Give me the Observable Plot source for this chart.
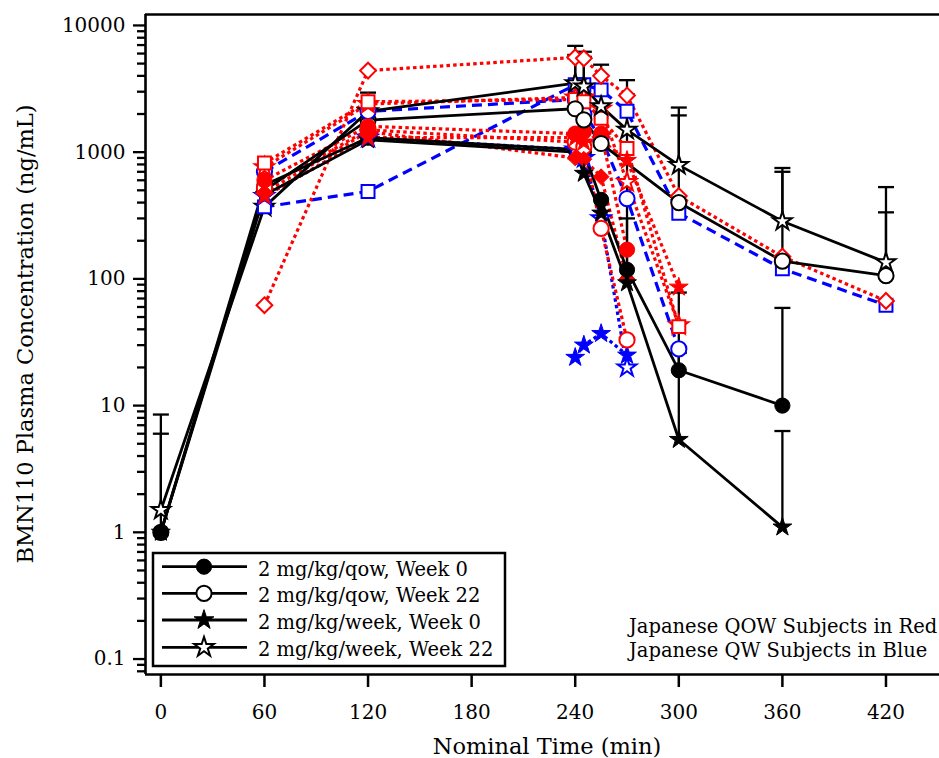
<!DOCTYPE html>
<html><head><meta charset="utf-8">
<script src="https://cdn.jsdelivr.net/npm/d3@7"></script>
<script src="https://cdn.jsdelivr.net/npm/@observablehq/plot@0.6"></script>
<style>body{margin:0;background:#fff;} svg{display:block;}</style>
</head><body><div id="chart"></div>
<script>
// ---------- data ----------
const times = [0, 60, 120, 240, 245, 255, 270, 300, 360, 420];
const xTicks = [0, 60, 120, 180, 240, 300, 360, 420];
const yTicks = [0.1, 1, 10, 100, 1000, 10000];

// Mean profiles (black)
const qowWeek0  = [1.0, 550, 1300, 1050, 1000, 420, 118, 19, 10, null];
const qowWeek22 = [1.0, 500, 1790, 2200, 1800, 1170, null, 400, 138, 106];
const qwWeek0   = [1.0, 460, 1250, 1000, 680, 330, 93, 5.4, 1.1, null];
const qwWeek22  = [1.5, 370, 2100, 3500, 3300, 2300, 1500, 790, 285, 135];
// Upper ends of error bars (mean + SD)
const qowWeek0Top  = [6.0, null, null, null, null, null, 300, 78, 59, null];
const qowWeek22Top = [null, null, null, 5850, 5650, null, null, 1950, 700, 335];
const qwWeek0Top   = [null, null, null, null, null, null, 2850, 26, 6.3, null];
const qwWeek22Top  = [8.5, null, 2950, 6900, 6200, 4900, 3700, 2250, 750, 530];

// Japanese QOW subjects (red)
const jQowDiamondOpen   = [null, 62, 4400, 5600, 5500, 4000, 2800, 450, 150, 67];
const jQowStarOpen      = [null, 760, 2400, 2700, 2700, 2200, 580, 43, null, null];
const jQowSquareOpen    = [null, 820, 2500, 2600, 2500, 1850, 1070, 42, null, null];
const jQowCircleFilled  = [null, 600, 1600, 1400, 1450, 1400, 170, null, null, null];
const jQowDiamondFilled = [null, 480, 1450, 900, 880, 640, 100, null, null, null];
const jQowStarFilled    = [null, 450, 1300, 1300, 1200, 1250, 860, 86, null, null];
const jQowCircleOpen    = [null, 520, 1500, 1200, 1100, 250, 33, null, null, null];
// Japanese QW subjects (blue)
const jQwSquareOpen  = [null, 370, 490, 3400, 3400, 3100, 2100, 330, 120, 62];
const jQwCircleOpen  = [null, 700, 2100, 2600, 2000, 1300, 430, 28, null, null];
const jQwStarOpen    = [null, 450, 1300, 1050, 900, 300, 20, null, null, null];
const jQwStarFilled  = [null, null, null, 24, 30, 37, 25, null, null, null];

const legendLabels = ["2 mg/kg/qow, Week 0", "2 mg/kg/qow, Week 22", "2 mg/kg/week, Week 0", "2 mg/kg/week, Week 22"];
const noteLines = ["Japanese QOW Subjects in Red", "Japanese QW Subjects in Blue"];
const xTitle = "Nominal Time (min)";
const yTitle = "BMN110 Plasma Concentration (ng/mL)";

// ---------- styling / helpers ----------
const W = 939, H = 758;
const mL = 145, mT = 14, mB = 84, mR = 0;
const xDomain = [-8.9, 451];
const yDomain = [0.0755, 12200];
const RED = "#ff0000", BLUE = "#0000ff";
const FONT = "DejaVu Serif";
const SYM = {
  circle: {s: "circle", r: 7.6},
  star: {s: "star", r: 5.9},
  square: {s: "square", r: 7.3},
  diamond: {s: "diamond2", r: 7.1}
};
const rowsOf = (vals, top) => times.map((t, i) => ({t, v: vals[i], top: top ? top[i] : null})).filter(d => d.v != null);

const means = [
  {vals: qowWeek22, top: qowWeek22Top, shape: "circle", filled: false, lateFrom: 240},
  {vals: qwWeek0, top: qwWeek0Top, shape: "star", filled: true, lateFrom: 245},
  {vals: qwWeek22, top: qwWeek22Top, shape: "star", filled: false, lateFrom: 240},
  {vals: qowWeek0, top: qowWeek0Top, shape: "circle", filled: true, lateFrom: 250}
];
const DOT = "3.5,3.2", DASH = "10,6";
const subjects = [
  {vals: jQwSquareOpen, color: BLUE, dash: DASH, shape: "square", filled: false},
  {vals: jQwCircleOpen, color: BLUE, dash: DASH, shape: "circle", filled: false},
  {vals: jQwStarOpen, color: BLUE, dash: DOT, shape: "star", filled: false},
  {vals: jQwStarFilled, color: BLUE, dash: DOT, shape: "star", filled: true},
  {vals: jQowDiamondOpen, color: RED, dash: DOT, shape: "diamond", filled: false},
  {vals: jQowStarOpen, color: RED, dash: DOT, shape: "star", filled: false},
  {vals: jQowSquareOpen, color: RED, dash: DOT, shape: "square", filled: false},
  {vals: jQowCircleOpen, color: RED, dash: DOT, shape: "circle", filled: false},
  {vals: jQowDiamondFilled, color: RED, dash: DOT, shape: "diamond", filled: true},
  {vals: jQowStarFilled, color: RED, dash: DOT, shape: "star", filled: true},
  {vals: jQowCircleFilled, color: RED, dash: DOT, shape: "circle", filled: true}
];

function dots(data, shape, filled, color) {
  const sy = SYM[shape];
  return Plot.dot(data, {x: "t", y: "v", symbol: sy.s, r: sy.r,
    fill: filled ? color : "white", stroke: color, strokeWidth: filled ? 1 : 2});
}
const capSymbol = {draw(ctx) { ctx.moveTo(-8, 0); ctx.lineTo(8, 0); }};

const marks = [];
// colored lines
for (const s of subjects) marks.push(Plot.line(rowsOf(s.vals), {x: "t", y: "v", stroke: s.color, strokeWidth: 3.2, strokeDasharray: s.dash, strokeLinecap: "butt", strokeLinejoin: "miter"}));
// black lines
for (const m of means) marks.push(Plot.line(rowsOf(m.vals), {x: "t", y: "v", stroke: "black", strokeWidth: 2.8}));
// error bars
const errRows = means.flatMap(m => rowsOf(m.vals, m.top).filter(d => d.top != null));
marks.push(Plot.ruleX(errRows, {x: "t", y1: "v", y2: "top", stroke: "black", strokeWidth: 2.3}));
marks.push(Plot.dot(errRows, {x: "t", y: "top", symbol: capSymbol, r: 3, fill: "none", stroke: "black", strokeWidth: 2.3}));
// black markers (early)
for (const m of means) marks.push(dots(rowsOf(m.vals).filter(d => d.t < m.lateFrom), m.shape, m.filled, "black"));
// colored markers
for (const s of subjects) marks.push(dots(rowsOf(s.vals), s.shape, s.filled, s.color));
// black markers (late)
for (const m of means) marks.push(dots(rowsOf(m.vals).filter(d => d.t >= m.lateFrom), m.shape, m.filled, "black"));

// axes & frame
const minor = [];
for (const d of [0.01, 0.1, 1, 10, 100, 1000]) for (let k = 2; k <= 9; k++) { const v = k * d; if (v >= yDomain[0] && v <= yDomain[1]) minor.push(v); }
marks.push(Plot.axisY({ticks: minor, tickSize: 8, tickFormat: () => "", strokeWidth: 2.3}));
marks.push(Plot.axisY({ticks: yTicks, tickSize: 12, tickPadding: 8, tickFormat: d => String(d), strokeWidth: 2.3, fontSize: 20, label: null}));
marks.push(Plot.axisX({ticks: xTicks, tickSize: 13, tickPadding: 17, tickFormat: d => String(d), strokeWidth: 2.5, fontSize: 20, label: null}));
marks.push(Plot.ruleX([xDomain[0]], {stroke: "black", strokeWidth: 2.6}));
marks.push(Plot.ruleY([yDomain[0], yDomain[1]], {stroke: "black", strokeWidth: 2.6}));

const chart = Plot.plot({
  width: W, height: H,
  marginLeft: mL, marginTop: mT, marginBottom: mB, marginRight: mR,
  style: {fontFamily: FONT, fontSize: "20px", background: "white", color: "black"},
  x: {domain: xDomain, label: null},
  y: {type: "log", domain: yDomain, label: null},
  marks
});
document.getElementById("chart").appendChild(chart);

// ---------- legend, note, titles ----------
const svg = d3.select(chart);
const g = svg.append("g").attr("font-family", FONT).attr("text-anchor", "start");
g.append("rect").attr("x", 153).attr("y", 553).attr("width", 352).attr("height", 113)
  .attr("fill", "white").attr("stroke", "black").attr("stroke-width", 2.5);
const legendShapes = [
  {type: d3.symbolCircle, r: 7.6, filled: true},
  {type: d3.symbolCircle, r: 7.6, filled: false},
  {type: d3.symbolStar, r: 6.2, filled: true},
  {type: d3.symbolStar, r: 6.2, filled: false}
];
const rowY = [566.7, 593.3, 620, 647.3];
legendLabels.forEach((lab, i) => {
  const y = rowY[i], sh = legendShapes[i];
  g.append("line").attr("x1", 162).attr("x2", 247).attr("y1", y).attr("y2", y).attr("stroke", "black").attr("stroke-width", 2.8);
  g.append("path").attr("d", d3.symbol(sh.type, Math.PI * sh.r * sh.r)()).attr("transform", `translate(204,${y})`)
    .attr("fill", sh.filled ? "black" : "white").attr("stroke", "black").attr("stroke-width", sh.filled ? 1 : 2);
  g.append("text").attr("x", 258).attr("y", y + 9).attr("text-anchor", "start").attr("font-size", 19.5).attr("fill", "black").text(lab);
});
noteLines.forEach((t, i) => {
  g.append("text").attr("x", 629).attr("y", 633 + i * 24).attr("text-anchor", "start").attr("font-size", 19.5).attr("fill", "black").text(t);
});
g.append("text").attr("x", 547).attr("y", 754).attr("text-anchor", "middle").attr("font-size", 22.5).attr("fill", "black").text(xTitle);
g.append("text").attr("transform", "translate(33,334) rotate(-90)").attr("text-anchor", "middle").attr("font-size", 22.5).attr("fill", "black").text(yTitle);
</script>
</body></html>
